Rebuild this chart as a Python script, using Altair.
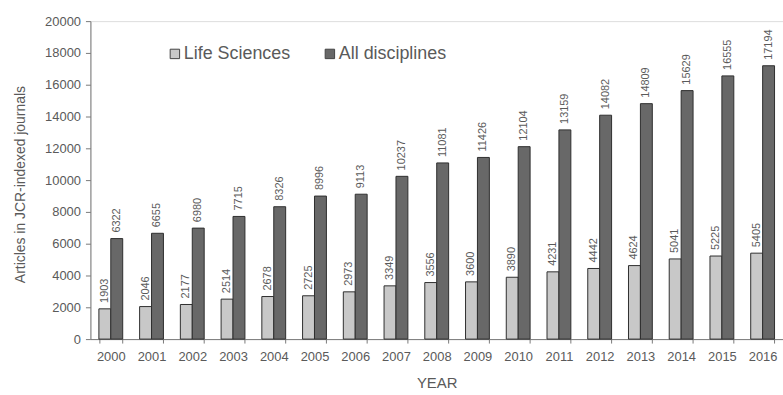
import altair as alt
import pandas as pd

years = [str(y) for y in range(2000, 2017)]
life_sciences = [1903, 2046, 2177, 2514, 2678, 2725, 2973, 3349, 3556, 3600,
                 3890, 4231, 4442, 4624, 5041, 5225, 5405]
all_disciplines = [6322, 6655, 6980, 7715, 8326, 8996, 9113, 10237, 11081, 11426,
                   12104, 13159, 14082, 14809, 15629, 16555, 17194]
series_names = ["Life Sciences", "All disciplines"]
series_colors = ["#c8c8c8", "#686868"]
y_ticks = [0, 2000, 4000, 6000, 8000, 10000, 12000, 14000, 16000, 18000, 20000]

rows = []
for i, y in enumerate(years):
    rows.append({"year": y, "series": series_names[0], "value": life_sciences[i]})
    rows.append({"year": y, "series": series_names[1], "value": all_disciplines[i]})
df = pd.DataFrame(rows)

TXT = "#5a5a5a"
AX = "#7a7a7a"

x_enc = alt.X("year:N", sort=years,
              scale=alt.Scale(paddingInner=0.415, paddingOuter=0.2075),
              axis=alt.Axis(title="YEAR", labelAngle=0, tickBand="extent",
                            labelFont="Liberation Sans", labelFontSize=13,
                            labelColor=TXT, labelPadding=8,
                            titleFont="Liberation Sans", titleFontSize=15,
                            titleFontWeight="normal", titleColor=TXT, titlePadding=12,
                            domainColor=AX, tickColor=AX, tickSize=4))
xoff = alt.XOffset("series:N", sort=series_names, scale=alt.Scale(paddingInner=0))
y_enc = alt.Y("value:Q", scale=alt.Scale(domain=[0, 20000]),
              axis=alt.Axis(title="Articles in JCR-indexed journals",
                            values=y_ticks, format="d",
                            labelOverlap=False, grid=False,
                            labelFont="Liberation Sans", labelFontSize=13,
                            labelColor=TXT, labelPadding=5,
                            titleFont="Liberation Sans", titleFontSize=14,
                            titleFontWeight="normal", titleColor=TXT,
                            titleX=-70, titleY=164, titleAlign="center",
                            titleBaseline="middle", titleAngle=270,
                            domainColor=AX, tickColor=AX, tickSize=5))

bars = alt.Chart(df).mark_bar(stroke="#2e2e2e", strokeWidth=1).encode(
    x=x_enc, xOffset=xoff, y=y_enc,
    color=alt.Color("series:N", sort=series_names,
                    scale=alt.Scale(domain=series_names, range=series_colors),
                    legend=alt.Legend(title=None, orient="none", legendX=76, legendY=24,
                                      direction="horizontal", symbolType="square",
                                      symbolSize=90, symbolStrokeColor="#444",
                                      symbolStrokeWidth=1, labelFont="Liberation Sans",
                                      labelFontSize=18, labelColor=TXT, labelOffset=0,
                                      columnPadding=30, padding=0))
)

labels = alt.Chart(df).mark_text(angle=270, align="left", baseline="middle", dx=6,
                                 font="Liberation Sans Narrow, Liberation Sans",
                                 fontSize=11, color=TXT).encode(
    x=x_enc, xOffset=xoff, y=y_enc, text="value:Q"
)

chart = (bars + labels).properties(
    width=697, height=320,
    autosize=alt.AutoSizeParams(type="none"),
    padding={"left": 91, "top": 20, "right": 0, "bottom": 55},
).configure_view(stroke=None).configure(background="white")

chart.save("out.html", embed_options={"renderer": "svg", "actions": False})
